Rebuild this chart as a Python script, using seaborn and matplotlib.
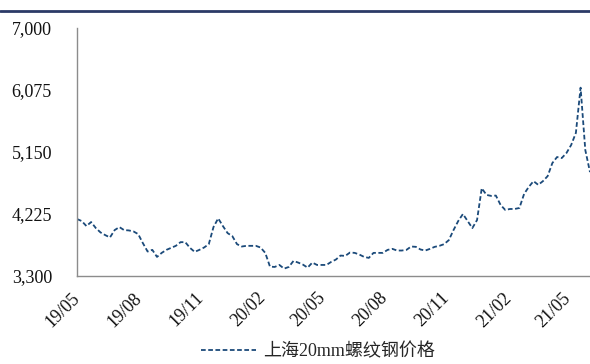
import matplotlib
matplotlib.use("Agg")
import matplotlib.pyplot as plt
import matplotlib.dates as mdates
from matplotlib.lines import Line2D
import numpy as np
import pandas as pd
import seaborn as sns

# Weekly Shanghai 20mm rebar price (yuan/ton), starting May 2019
start_date = "2019-05-01"
prices = [
    4150, 4120, 4045, 4105, 4015, 3950, 3910, 3875, 3985, 4030,
    3985, 3980, 3965, 3925, 3790, 3665, 3690, 3585, 3645, 3690,
    3720, 3750, 3805, 3805, 3720, 3660, 3690, 3725, 3775, 4030,
    4160, 4045, 3940, 3895, 3775, 3740, 3750, 3750, 3750, 3725,
    3645, 3440, 3435, 3465, 3410, 3435, 3525, 3500, 3470, 3425,
    3500, 3465, 3465, 3465, 3510, 3545, 3605, 3600, 3650, 3645,
    3620, 3585, 3570, 3645, 3645, 3645, 3690, 3705, 3680, 3680,
    3690, 3740, 3735, 3695, 3680, 3705, 3735, 3750, 3775, 3835,
    3985, 4120, 4225, 4120, 4015, 4135, 4610, 4510, 4495, 4500,
    4360, 4285, 4300, 4300, 4315, 4525, 4630, 4715, 4660, 4715,
    4790, 4985, 5075, 5060, 5135, 5255, 5435, 6110, 5180, 4850,
]
series_name = "上海20mm螺纹钢价格"

y_ticks = [3300, 4225, 5150, 6075, 7000]
x_tick_dates = ["2019-05-01", "2019-08-01", "2019-11-01", "2020-02-01",
                "2020-05-01", "2020-08-01", "2020-11-01", "2021-02-01",
                "2021-05-01"]
x_tick_labels = ["19/05", "19/08", "19/11", "20/02", "20/05", "20/08",
                 "20/11", "21/02", "21/05"]

df = pd.DataFrame({
    "date": pd.date_range(start_date, periods=len(prices), freq="7D"),
    "price": prices,
})

sns.set_style("white")
plt.rcParams["font.family"] = ["Liberation Serif", "Noto Sans CJK SC"]

W, H = 590, 364
fig = plt.figure(figsize=(W / 100, H / 100), dpi=100)
ax = fig.add_axes([77 / W, 88 / H, (590 - 77) / W, 248 / H])

line_color = "#1B4A7A"
sns.lineplot(data=df, x="date", y="price", ax=ax, color=line_color,
             linewidth=1.3, linestyle=(0, (2.6, 1.4)), label=series_name,
             legend=False)

ax.set_ylim(3300, 7000)
ax.set_xlim(pd.Timestamp("2019-05-01"), pd.Timestamp("2021-06-02"))
ax.set_yticks(y_ticks)
ax.set_yticklabels([f"{v:,}" for v in y_ticks])
ax.set_xticks(pd.to_datetime(x_tick_dates))
ax.set_xticklabels(x_tick_labels, rotation=45, ha="right", va="center",
                   rotation_mode="anchor")
ax.set_xlabel("")
ax.set_ylabel("")

spine_color = "#8C8C8C"
for side in ["top", "right"]:
    ax.spines[side].set_visible(False)
for side in ["left", "bottom"]:
    ax.spines[side].set_color(spine_color)
    ax.spines[side].set_linewidth(1.0)

ax.tick_params(axis="y", direction="out", length=5, width=1.0,
               color=spine_color, labelsize=13, pad=13, labelcolor="#111111")
ax.tick_params(axis="x", direction="out", length=5, width=1.0,
               color=spine_color, labelsize=13, pad=9, labelcolor="#111111")

handle = Line2D([], [], color=line_color, linewidth=1.3,
                linestyle=(0, (2.6, 1.4)))
fig.legend([handle], [series_name], loc="center",
           bbox_to_anchor=(318 / W, 12 / H), frameon=False, fontsize=13,
           handlelength=3.0, handletextpad=0.4)

# header rule across the top of the figure
fig.add_artist(Line2D([0, 1], [1 - 10.5 / H, 1 - 10.5 / H],
                      transform=fig.transFigure, color="#2B3A67",
                      linewidth=2.0))

fig.savefig("out.png", dpi=100)
